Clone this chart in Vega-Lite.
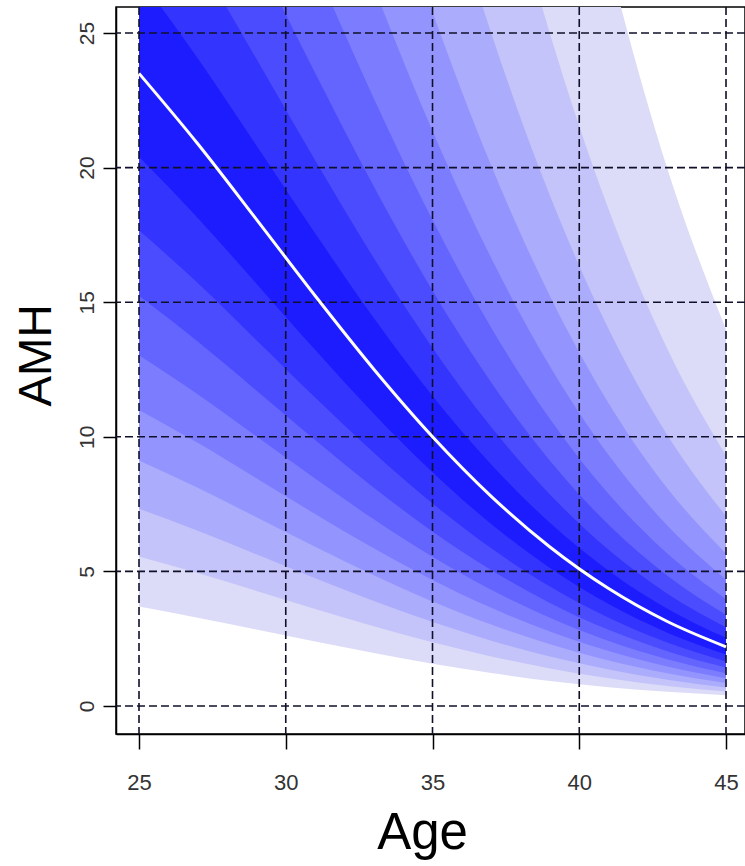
{
  "$schema": "https://vega.github.io/schema/vega-lite/v6.json",
  "width": 629,
  "height": 727,
  "autosize": {"type": "none"},
  "padding": {"left": 116, "top": 7, "right": 0, "bottom": 132},
  "background": "white",
  "config": {
    "view": {"stroke": "black", "strokeWidth": 1.5},
    "axis": {"domainColor": "black", "domainWidth": 1.5, "tickColor": "black", "tickWidth": 1.5, "labelColor": "#333", "titleColor": "black", "titleFont": "Liberation Sans", "titleFontWeight": "normal", "grid": false}
  },
  "datasets": {
    "bands": [
      {"k":9,"age":25,"lo":3.694,"hi":149.5},{"k":9,"age":27,"lo":3.283,"hi":132.9},{"k":9,"age":29,"lo":2.842,"hi":115.0},{"k":9,"age":31,"lo":2.396,"hi":96.97},{"k":9,"age":33,"lo":1.967,"hi":79.61},{"k":9,"age":35,"lo":1.573,"hi":63.65},{"k":9,"age":37,"lo":1.225,"hi":49.57},{"k":9,"age":39,"lo":0.929,"hi":37.59},{"k":9,"age":41,"lo":0.700,"hi":27.77},{"k":9,"age":43,"lo":0.530,"hi":19.97},{"k":9,"age":45,"lo":0.400,"hi":13.99},
      {"k":8,"age":25,"lo":5.558,"hi":99.37},{"k":8,"age":27,"lo":4.940,"hi":88.31},{"k":8,"age":29,"lo":4.275,"hi":76.44},{"k":8,"age":31,"lo":3.604,"hi":64.44},{"k":8,"age":33,"lo":2.959,"hi":52.91},{"k":8,"age":35,"lo":2.366,"hi":42.30},{"k":8,"age":37,"lo":1.842,"hi":32.94},{"k":8,"age":39,"lo":1.397,"hi":24.98},{"k":8,"age":41,"lo":1.032,"hi":18.45},{"k":8,"age":43,"lo":0.742,"hi":13.27},{"k":8,"age":45,"lo":0.540,"hi":9.298},
      {"k":7,"age":25,"lo":7.323,"hi":75.41},{"k":7,"age":27,"lo":6.508,"hi":67.03},{"k":7,"age":29,"lo":5.633,"hi":58.01},{"k":7,"age":31,"lo":4.749,"hi":48.91},{"k":7,"age":33,"lo":3.899,"hi":40.15},{"k":7,"age":35,"lo":3.117,"hi":32.10},{"k":7,"age":37,"lo":2.427,"hi":25.00},{"k":7,"age":39,"lo":1.841,"hi":18.96},{"k":7,"age":41,"lo":1.360,"hi":14.00},{"k":7,"age":43,"lo":0.978,"hi":10.07},{"k":7,"age":45,"lo":0.685,"hi":7.057},
      {"k":6,"age":25,"lo":9.118,"hi":60.57},{"k":6,"age":27,"lo":8.104,"hi":53.83},{"k":6,"age":29,"lo":7.014,"hi":46.59},{"k":6,"age":31,"lo":5.913,"hi":39.28},{"k":6,"age":33,"lo":4.855,"hi":32.25},{"k":6,"age":35,"lo":3.882,"hi":25.78},{"k":6,"age":37,"lo":3.023,"hi":20.08},{"k":6,"age":39,"lo":2.292,"hi":15.23},{"k":6,"age":41,"lo":1.693,"hi":11.25},{"k":6,"age":43,"lo":1.218,"hi":8.090},{"k":6,"age":45,"lo":0.853,"hi":5.668},
      {"k":5,"age":25,"lo":11.00,"hi":50.19},{"k":5,"age":27,"lo":9.779,"hi":44.60},{"k":5,"age":29,"lo":8.464,"hi":38.61},{"k":5,"age":31,"lo":7.135,"hi":32.55},{"k":5,"age":33,"lo":5.858,"hi":26.72},{"k":5,"age":35,"lo":4.684,"hi":21.36},{"k":5,"age":37,"lo":3.647,"hi":16.64},{"k":5,"age":39,"lo":2.766,"hi":12.62},{"k":5,"age":41,"lo":2.043,"hi":9.320},{"k":5,"age":43,"lo":1.470,"hi":6.704},{"k":5,"age":45,"lo":1.030,"hi":4.696},
      {"k":4,"age":25,"lo":13.03,"hi":42.39},{"k":4,"age":27,"lo":11.58,"hi":37.68},{"k":4,"age":29,"lo":10.02,"hi":32.61},{"k":4,"age":31,"lo":8.448,"hi":27.49},{"k":4,"age":33,"lo":6.935,"hi":22.57},{"k":4,"age":35,"lo":5.545,"hi":18.05},{"k":4,"age":37,"lo":4.318,"hi":14.05},{"k":4,"age":39,"lo":3.275,"hi":10.66},{"k":4,"age":41,"lo":2.419,"hi":7.873},{"k":4,"age":43,"lo":1.740,"hi":5.663},{"k":4,"age":45,"lo":1.219,"hi":3.967},
      {"k":3,"age":25,"lo":15.24,"hi":36.25},{"k":3,"age":27,"lo":13.54,"hi":32.22},{"k":3,"age":29,"lo":11.72,"hi":27.89},{"k":3,"age":31,"lo":9.880,"hi":23.51},{"k":3,"age":33,"lo":8.112,"hi":19.30},{"k":3,"age":35,"lo":6.486,"hi":15.43},{"k":3,"age":37,"lo":5.050,"hi":12.02},{"k":3,"age":39,"lo":3.830,"hi":9.114},{"k":3,"age":41,"lo":2.829,"hi":6.732},{"k":3,"age":43,"lo":2.035,"hi":4.842},{"k":3,"age":45,"lo":1.426,"hi":3.392},
      {"k":2,"age":25,"lo":17.67,"hi":31.25},{"k":2,"age":27,"lo":15.71,"hi":27.77},{"k":2,"age":29,"lo":13.59,"hi":24.04},{"k":2,"age":31,"lo":11.46,"hi":20.27},{"k":2,"age":33,"lo":9.409,"hi":16.64},{"k":2,"age":35,"lo":7.523,"hi":13.30},{"k":2,"age":37,"lo":5.858,"hi":10.36},{"k":2,"age":39,"lo":4.443,"hi":7.856},{"k":2,"age":41,"lo":3.282,"hi":5.803},{"k":2,"age":43,"lo":2.361,"hi":4.174},{"k":2,"age":45,"lo":1.654,"hi":2.924},
      {"k":1,"age":25,"lo":20.40,"hi":27.07},{"k":1,"age":27,"lo":18.13,"hi":24.06},{"k":1,"age":29,"lo":15.69,"hi":20.82},{"k":1,"age":31,"lo":13.23,"hi":17.56},{"k":1,"age":33,"lo":10.86,"hi":14.41},{"k":1,"age":35,"lo":8.685,"hi":11.52},{"k":1,"age":37,"lo":6.762,"hi":8.973},{"k":1,"age":39,"lo":5.129,"hi":6.805},{"k":1,"age":41,"lo":3.788,"hi":5.027},{"k":1,"age":43,"lo":2.725,"hi":3.616},{"k":1,"age":45,"lo":1.909,"hi":2.533}
    ],
    "median": [
      {"age":25,"m":23.50},{"age":27,"m":20.886},{"age":29,"m":18.078},{"age":31,"m":15.240},{"age":33,"m":12.512},{"age":35,"m":10.004},{"age":37,"m":7.790},{"age":39,"m":5.908},{"age":41,"m":4.364},{"age":43,"m":3.139},{"age":45,"m":2.199}
    ],
    "vgrid": [{"g":25},{"g":30},{"g":35},{"g":40},{"g":45}],
    "hgrid": [{"g":0},{"g":5},{"g":10},{"g":15},{"g":20},{"g":25}]
  },
  "layer": [
    {
      "data": {"name": "bands"},
      "mark": {"type": "area", "clip": true, "interpolate": "monotone"},
      "encoding": {
        "x": {"field": "age", "type": "quantitative", "title": "Age",
              "scale": {"domain": [24.216, 45.647], "nice": false, "zero": false},
              "axis": {"values": [25, 30, 35, 40, 45], "tickSize": 15, "labelFont": "Liberation Sans", "labelFontSize": 22, "labelBaseline": "alphabetic", "labelPadding": 40, "labelFlush": false, "labelOverlap": false,
                       "titleFontSize": 51, "titleX": 306, "titleY": 114, "titleBaseline": "alphabetic", "titleAlign": "center"}},
        "y": {"field": "lo", "type": "quantitative", "title": "AMH",
              "scale": {"domain": [-1.040, 25.966], "nice": false, "zero": false},
              "axis": {"values": [0, 5, 10, 15, 20, 25], "tickSize": 13, "labelFont": "Liberation Sans", "labelFontSize": 21, "labelAngle": 270, "labelAlign": "center", "labelBaseline": "alphabetic", "labelPadding": 10, "labelFlush": false, "labelOverlap": false,
                       "titleFontSize": 46, "titleAngle": 270, "titleX": -80, "titleY": 348, "titleAlign": "center", "titleBaseline": "middle"}},
        "y2": {"field": "hi"},
        "color": {"field": "k", "type": "nominal", "legend": null,
                  "scale": {"domain": [1, 2, 3, 4, 5, 6, 7, 8, 9], "range": ["#1c1cff", "#3434ff", "#4c4cff", "#6464ff", "#7c7cff", "#9494ff", "#acacfc", "#c4c4fa", "#dcdcf8"]}}
      }
    },
    {
      "data": {"name": "vgrid"},
      "mark": {"type": "rule", "color": "#10102a", "strokeWidth": 1.6, "strokeDash": [8, 4]},
      "encoding": {"x": {"field": "g", "type": "quantitative", "title": "Age"}}
    },
    {
      "data": {"name": "hgrid"},
      "mark": {"type": "rule", "color": "#10102a", "strokeWidth": 1.6, "strokeDash": [8, 4]},
      "encoding": {"y": {"field": "g", "type": "quantitative", "title": "AMH"}}
    },
    {
      "data": {"name": "median"},
      "mark": {"type": "line", "clip": true, "interpolate": "monotone", "color": "white", "strokeWidth": 3},
      "encoding": {
        "x": {"field": "age", "type": "quantitative", "title": "Age"},
        "y": {"field": "m", "type": "quantitative", "title": "AMH"}
      }
    }
  ]
}
